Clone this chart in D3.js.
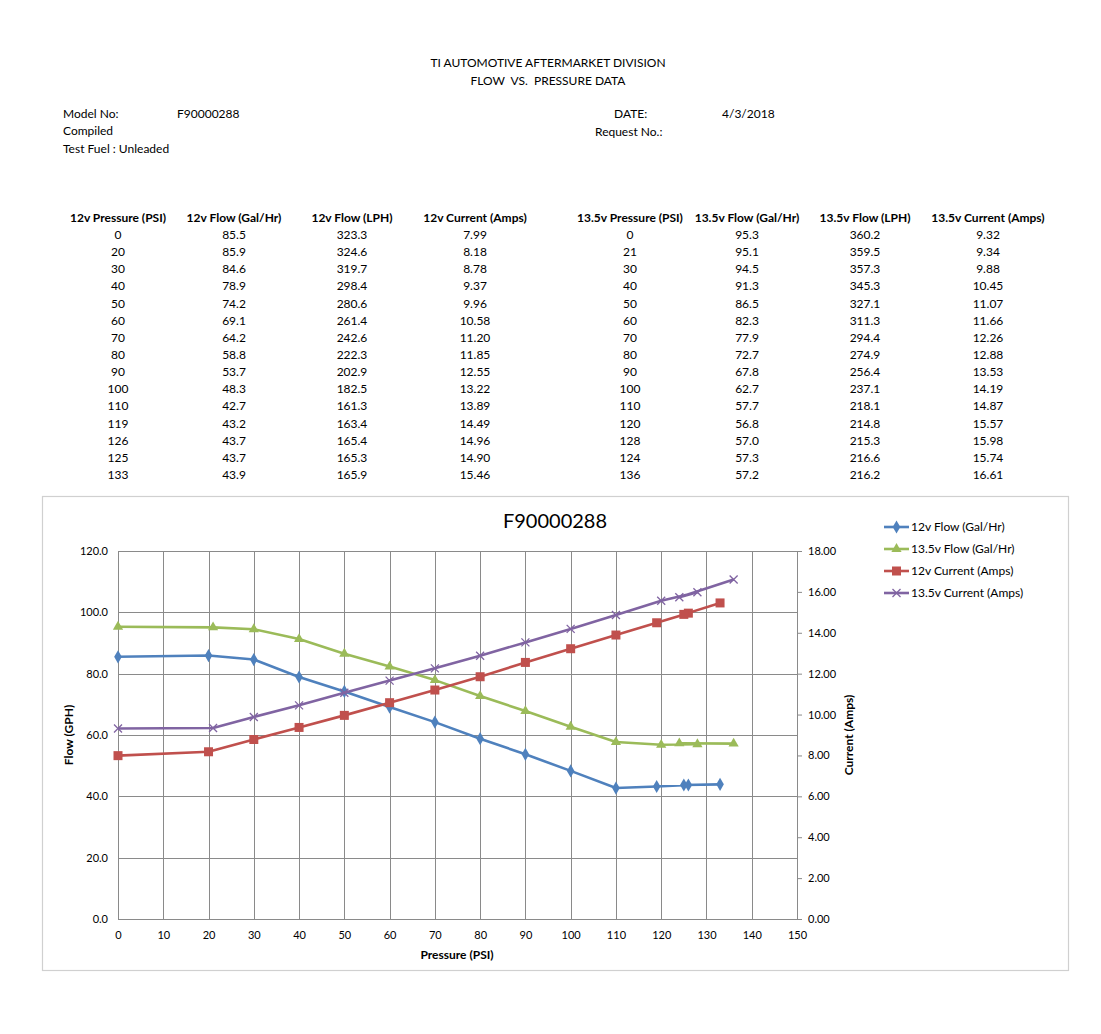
<!DOCTYPE html>
<html><head><meta charset="utf-8">
<script src="https://cdn.jsdelivr.net/npm/d3@7"></script>
<style>
body{margin:0;background:#fff;}
svg text{font-family:Lato,"Open Sans",sans-serif;fill:#000;white-space:pre;}
</style>
</head><body>
<svg id="c" width="1101" height="1034"></svg>
<script>
// ---- data ----
const pressure12 = [0,20,30,40,50,60,70,80,90,100,110,119,126,125,133];
const flowGal12  = [85.5,85.9,84.6,78.9,74.2,69.1,64.2,58.8,53.7,48.3,42.7,43.2,43.7,43.7,43.9];
const flowLph12  = [323.3,324.6,319.7,298.4,280.6,261.4,242.6,222.3,202.9,182.5,161.3,163.4,165.4,165.3,165.9];
const current12  = [7.99,8.18,8.78,9.37,9.96,10.58,11.20,11.85,12.55,13.22,13.89,14.49,14.96,14.90,15.46];
const pressure135 = [0,21,30,40,50,60,70,80,90,100,110,120,128,124,136];
const flowGal135  = [95.3,95.1,94.5,91.3,86.5,82.3,77.9,72.7,67.8,62.7,57.7,56.8,57.0,57.3,57.2];
const flowLph135  = [360.2,359.5,357.3,345.3,327.1,311.3,294.4,274.9,256.4,237.1,218.1,214.8,215.3,216.6,216.2];
const current135  = [9.32,9.34,9.88,10.45,11.07,11.66,12.26,12.88,13.53,14.19,14.87,15.57,15.98,15.74,16.61];
const tableHeaders = ["12v Pressure (PSI)","12v Flow (Gal/Hr)","12v Flow (LPH)","12v Current (Amps)",
  "13.5v Pressure (PSI)","13.5v Flow (Gal/Hr)","13.5v Flow (LPH)","13.5v Current (Amps)"];
const xTicks = [0,10,20,30,40,50,60,70,80,90,100,110,120,130,140,150];
const yLeftTicks = [0,20,40,60,80,100,120];
const yRightTicks = [0,2,4,6,8,10,12,14,16,18];
const seriesNames = ["12v Flow (Gal/Hr)","13.5v Flow (Gal/Hr)","12v Current (Amps)","13.5v Current (Amps)"];

const svg = d3.select("#c");

// ---- header ----
const hdr = svg.append("g").style("font-size","12px");
hdr.append("text").attr("x",548).attr("y",67).attr("text-anchor","middle").text("TI AUTOMOTIVE AFTERMARKET DIVISION");
hdr.append("text").attr("x",548).attr("y",85).attr("text-anchor","middle").text("FLOW  VS.  PRESSURE DATA");
hdr.append("text").attr("x",63).attr("y",118).text("Model No:");
hdr.append("text").attr("x",177).attr("y",118).text("F90000288");
hdr.append("text").attr("x",63).attr("y",135).text("Compiled");
hdr.append("text").attr("x",63).attr("y",153).text("Test Fuel : Unleaded");
hdr.append("text").attr("x",614).attr("y",118).text("DATE:");
hdr.append("text").attr("x",722).attr("y",118).text("4/3/2018");
hdr.append("text").attr("x",595).attr("y",136).text("Request No.:");

// ---- table ----
const colX = [118,234,352,475,630,747,865,988];
const f0 = d3.format("d"), f1 = d3.format(".1f"), f2 = d3.format(".2f");
const cols = [
  [pressure12,f0],[flowGal12,f1],[flowLph12,f1],[current12,f2],
  [pressure135,f0],[flowGal135,f1],[flowLph135,f1],[current135,f2]
];
const tbl = svg.append("g").style("font-size","12px");
tableHeaders.forEach((h,i)=>{
  tbl.append("text").attr("x",colX[i]).attr("y",222).attr("text-anchor","middle")
    .style("font-weight","bold").text(h);
});
const rowY = d3.scaleLinear().domain([0,14]).range([239,479]);
cols.forEach(([arr,fmt],i)=>{
  tbl.selectAll(null).data(arr).enter().append("text")
    .attr("x",colX[i]).attr("y",(d,j)=>rowY(j)).attr("text-anchor","middle").text(d=>fmt(d));
});

// ---- chart frame ----
svg.append("rect").attr("x",42.5).attr("y",496.5).attr("width",1026).attr("height",474)
  .attr("fill","#fff").attr("stroke","#d0d0d0").attr("stroke-width",1.2);

const x = d3.scaleLinear().domain([0,150]).range([118,797]);
const yL = d3.scaleLinear().domain([0,120]).range([919,551]);
const yR = d3.scaleLinear().domain([0,18]).range([919,551]);

const grid = svg.append("g").attr("stroke","#8a8a8a").attr("stroke-width",1);
xTicks.forEach(t=>grid.append("line").attr("x1",Math.round(x(t))+0.5).attr("x2",Math.round(x(t))+0.5).attr("y1",551).attr("y2",919));
yLeftTicks.forEach(t=>grid.append("line").attr("x1",118).attr("x2",797).attr("y1",Math.round(yL(t))+0.5).attr("y2",Math.round(yL(t))+0.5));

// axes
const axFont = "11px";
const gB = svg.append("g").attr("transform","translate(0,919)")
  .call(d3.axisBottom(x).tickValues(xTicks).tickSize(0).tickPadding(12).tickFormat(d3.format("d")));
const gL = svg.append("g").attr("transform","translate(118,0)")
  .call(d3.axisLeft(yL).tickValues(yLeftTicks).tickSize(0).tickPadding(10).tickFormat(d3.format(".1f")));
const gR = svg.append("g").attr("transform","translate(797,0)")
  .call(d3.axisRight(yR).tickValues(yRightTicks).tickSize(5).tickPadding(6).tickFormat(d3.format(".2f")));
[gB,gL,gR].forEach(g=>{
  g.selectAll("path.domain").attr("stroke","#8a8a8a");
  g.selectAll("line").attr("stroke","#8a8a8a");
  g.selectAll("text").style("font-size",axFont).style("font-family","Lato,'Open Sans',sans-serif").attr("fill","#000");
});

// titles
svg.append("text").attr("x",555).attr("y",528).attr("text-anchor","middle").style("font-size","20px").text("F90000288");
svg.append("text").attr("x",457).attr("y",959).attr("text-anchor","middle").style("font-size","12px").style("font-weight","bold").text("Pressure (PSI)");
svg.append("text").attr("transform","translate(73,735) rotate(-90)").attr("text-anchor","middle").style("font-size","12px").style("font-weight","bold").text("Flow (GPH)");
svg.append("text").attr("transform","translate(853,735) rotate(-90)").attr("text-anchor","middle").style("font-size","12px").style("font-weight","bold").text("Current (Amps)");

// ---- series ----
const colors = ["#4F81BD","#9BBB59","#C0504D","#8064A2"];
const series = [
  {name:seriesNames[0], xs:pressure12, ys:flowGal12, y:yL, color:colors[0], marker:"diamond"},
  {name:seriesNames[1], xs:pressure135, ys:flowGal135, y:yL, color:colors[1], marker:"triangle"},
  {name:seriesNames[2], xs:pressure12, ys:current12, y:yR, color:colors[2], marker:"square"},
  {name:seriesNames[3], xs:pressure135, ys:current135, y:yR, color:colors[3], marker:"x"}
];

function drawMarker(g, type, cx, cy, color){
  if(type==="diamond"){
    g.append("path").attr("d",d3.symbol(d3.symbolDiamond,50)()).attr("transform",`translate(${cx},${cy})`).attr("fill",color);
  } else if(type==="triangle"){
    g.append("path").attr("d",d3.symbol(d3.symbolTriangle,45)()).attr("transform",`translate(${cx},${cy})`).attr("fill",color);
  } else if(type==="square"){
    g.append("rect").attr("x",cx-4.5).attr("y",cy-4.5).attr("width",9).attr("height",9).attr("fill",color);
  } else {
    g.append("path").attr("d",`M${cx-4},${cy-4}L${cx+4},${cy+4}M${cx-4},${cy+4}L${cx+4},${cy-4}`)
      .attr("stroke",color).attr("stroke-width",1.3).attr("fill","none");
  }
}

series.forEach(s=>{
  const pts = s.xs.map((p,i)=>[x(p), s.y(s.ys[i])]);
  const g = svg.append("g");
  g.append("path").attr("d",d3.line()(pts)).attr("fill","none").attr("stroke",s.color)
    .attr("stroke-width",2.6).attr("stroke-linejoin","round");
  pts.forEach(p=>drawMarker(g,s.marker,p[0],p[1],s.color));
});

// ---- legend ----
const lg = svg.append("g");
series.forEach((s,i)=>{
  const ly = 527 + i*22;
  lg.append("line").attr("x1",884).attr("x2",909).attr("y1",ly).attr("y2",ly).attr("stroke",s.color).attr("stroke-width",2.6);
  drawMarker(lg,s.marker,896.5,ly,s.color);
  lg.append("text").attr("x",911).attr("y",ly+4).style("font-size","12px").text(s.name);
});
</script>
</body></html>
